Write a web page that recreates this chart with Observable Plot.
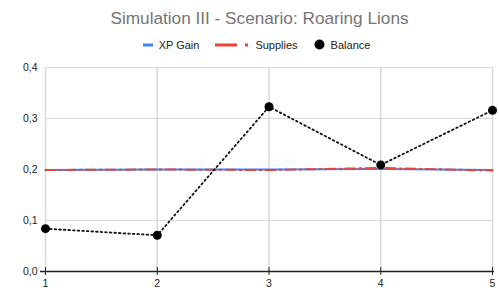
<!DOCTYPE html>
<html>
<head>
<meta charset="utf-8">
<script src="https://cdn.jsdelivr.net/npm/d3@7"></script>
<script src="https://cdn.jsdelivr.net/npm/@observablehq/plot@0.6"></script>
<style>
  html, body { margin: 0; padding: 0; background: #fff; }
  body { width: 499px; font-family: "Liberation Sans", Arial, sans-serif; }
  #title { height: 33px; line-height: 36px; text-align: center; font-size: 17.2px; color: #757575; padding-left: 20px; box-sizing: border-box; }
  #legend { height: 23px; display: flex; justify-content: center; align-items: center; font-size: 11px; color: #222; padding-left: 14px; box-sizing: border-box; }
  .item { display: flex; align-items: center; margin: 0 8px; }
  .item svg { margin-right: 6px; }
  #chart svg { display: block; }
</style>
</head>
<body>
<div id="title">Simulation III - Scenario: Roaring Lions</div>
<div id="legend">
  <div class="item"><svg width="10" height="4"><rect width="10" height="3" y="0.5" fill="#4285f4"/></svg>XP Gain</div>
  <div class="item"><svg width="34" height="4"><rect width="22" height="3" y="0.5" fill="#ea4335"/><rect x="30" width="3" height="3" y="0.5" fill="#ea4335"/></svg>Supplies</div>
  <div class="item"><svg width="11" height="11"><circle cx="5.5" cy="5.5" r="5" fill="#000"/></svg>Balance</div>
</div>
<div id="chart"></div>
<script>
const steps = [1, 2, 3, 4, 5];
const xpGain = [0.199, 0.200, 0.200, 0.201, 0.199];
const supplies = [0.199, 0.200, 0.199, 0.203, 0.198];
const balance = [0.084, 0.071, 0.323, 0.209, 0.316];
const yTicks = [0, 0.1, 0.2, 0.3, 0.4];

const xpData = steps.map((s, i) => ({step: s, value: xpGain[i]}));
const supData = steps.map((s, i) => ({step: s, value: supplies[i]}));
const balData = steps.map((s, i) => ({step: s, value: balance[i]}));

const fmt = d => d.toFixed(1).replace(".", ",");
const xfmt = d => String(d);

const chart = Plot.plot({
  width: 499,
  height: 235,
  marginTop: 11,
  marginBottom: 20,
  marginLeft: 45,
  marginRight: 7,
  style: {fontFamily: '"Liberation Sans", Arial, sans-serif', fontSize: "10.5px", color: "#222"},
  x: {domain: [1, 5], ticks: steps, tickFormat: xfmt, label: null},
  y: {domain: [0, 0.4], ticks: yTicks, tickFormat: fmt, label: null},
  marks: [
    Plot.gridY(yTicks.filter(d => d > 0), {stroke: "#d9d9d9", strokeOpacity: 1, strokeWidth: 1}),
    Plot.gridX(steps, {stroke: "#d9d9d9", strokeOpacity: 1, strokeWidth: 1.5}),
    Plot.axisY({ticks: yTicks, tickFormat: fmt, tickSize: 0, tickPadding: 8, fill: "#222", label: null}),
    Plot.axisX({ticks: steps, tickFormat: xfmt, tickSize: 0, tickPadding: 8, fill: "#222", label: null}),
    Plot.ruleY([0], {stroke: "#222", strokeWidth: 1.5, insetLeft: -5, insetRight: -2}),
    Plot.ruleX(steps, {y1: 0, y2: 0, insetTop: -4, insetBottom: -4, stroke: "#222", strokeWidth: 1}),
    Plot.line(xpData, {x: "step", y: "value", stroke: "#4285f4", strokeWidth: 2}),
    Plot.line(supData, {x: "step", y: "value", stroke: "#ea4335", strokeWidth: 2, strokeDasharray: "10,4,2,4"}),
    Plot.line(balData, {x: "step", y: "value", stroke: "#111", strokeWidth: 1.8, strokeDasharray: "1.6,3"}),
    Plot.dot(balData, {x: "step", y: "value", r: 4.5, fill: "#000", stroke: "none"})
  ]
});
document.getElementById("chart").appendChild(chart);
</script>
</body>
</html>
